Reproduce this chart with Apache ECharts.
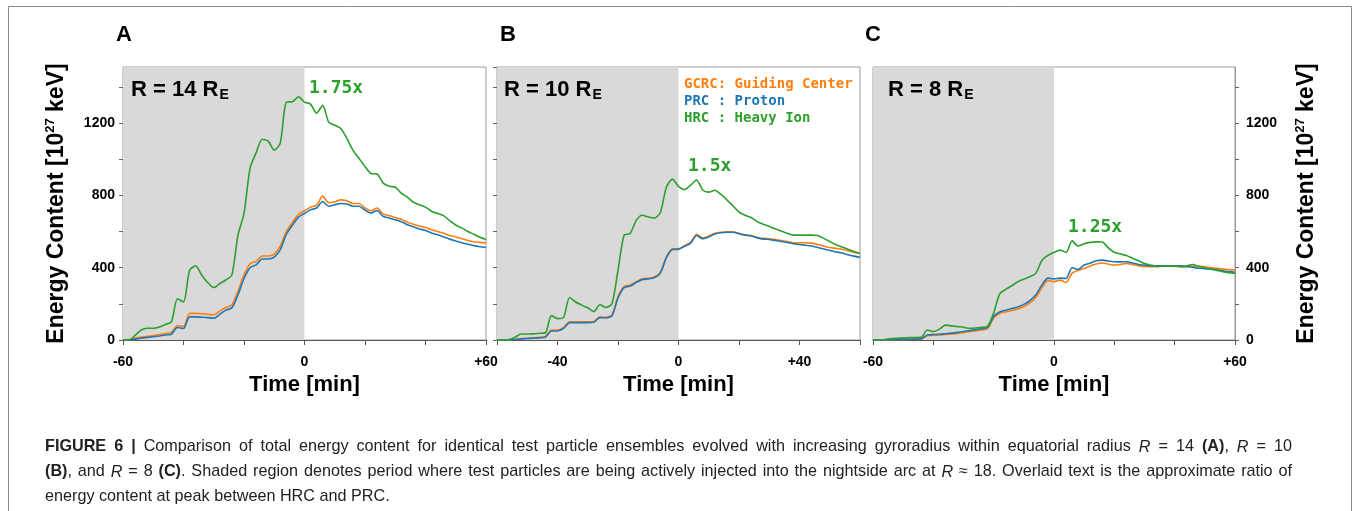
<!DOCTYPE html>
<html>
<head>
<meta charset="utf-8">
<script src="https://cdn.jsdelivr.net/npm/echarts@6/dist/echarts.min.js"></script>
<style>
html,body{margin:0;padding:0;background:#fff;}
#chart{width:1354px;height:511px;}
</style>
</head>
<body>
<div id="chart"></div>
<script>
// ---- data (time in minutes, energy content in 10^27 keV) ----
const time = [-60,-58,-56,-54,-52,-50,-48,-46,-44,-42,-40,-38,-36,-34,-32,-30,-28,-26,-24,-22,-20,-18,-16,-14,-12,-10,-8,-6,-4,-2,
  0,2,4,6,8,10,12,14,16,18,20,22,24,26,28,30,32,34,36,38,40,42,44,46,48,50,52,54,56,58,60];

// Panel A: R = 14 RE
const aGCRC = [0,2,10,16,20,25,30,36,42,80,75,147,147,145,142,138,160,180,195,270,360,422,435,465,465,475,520,600,650,695,
  715,735,745,796,760,765,775,770,755,755,730,715,730,698,688,678,668,652,640,630,622,610,600,590,578,570,560,550,543,540,537];
const aPRC = [0,0,5,10,14,18,22,28,32,70,64,128,128,126,124,120,142,165,178,250,340,400,415,448,448,458,500,585,635,680,
  700,720,730,766,740,748,755,752,740,740,718,702,716,684,675,665,654,638,626,614,606,592,582,570,558,548,538,530,522,516,512];
const aHRC = [0,0,25,55,65,65,72,86,100,228,210,385,410,360,318,290,312,332,360,580,700,950,1035,1110,1100,1050,1090,1316,1318,1345,
  1316,1305,1255,1298,1205,1188,1170,1115,1050,1005,960,921,918,868,850,845,812,790,762,748,735,712,700,688,660,636,620,600,585,568,556];

// Panel B: R = 10 RE
const bGCRC = [0,0,2,5,8,10,12,15,20,55,55,70,101,101,101,101,102,129,126,138,240,295,304,322,338,342,348,375,460,505,
  505,522,540,585,565,575,590,596,598,598,590,582,578,568,562,560,555,550,545,538,538,538,536,528,520,512,507,502,494,486,479];
const bPRC = [0,0,1,3,6,8,10,12,16,50,50,64,96,96,96,96,98,124,122,134,232,290,298,318,334,338,344,370,455,500,
  502,518,536,578,560,570,586,593,596,596,588,580,575,565,558,556,550,545,540,532,528,524,520,512,503,495,488,481,472,464,457];
const bHRC = [0,0,2,15,33,33,34,37,40,135,118,125,235,210,193,178,157,195,180,200,385,580,589,660,690,680,674,705,845,890,
  850,832,856,885,830,818,828,805,775,742,708,690,678,655,640,628,615,603,590,580,580,580,580,578,562,545,528,515,502,490,479];

// Panel C: R = 8 RE
const cGCRC = [0,0,0,2,3,3,4,5,6,24,26,28,30,33,36,40,46,50,55,62,122,147,155,163,172,185,205,235,290,330,
  323,331,318,370,385,395,409,420,426,420,414,418,424,418,410,407,405,405,408,410,407,405,406,408,409,405,400,396,392,389,387];
const cPRC = [0,0,0,2,3,3,4,5,6,28,30,32,35,38,42,47,52,57,62,70,130,155,165,174,183,197,218,250,305,342,
  338,342,340,400,390,415,425,438,442,437,433,432,433,426,418,414,410,410,410,410,409,410,407,402,397,395,392,388,383,378,374];
const cHRC = [0,0,3,8,10,12,13,14,15,55,46,60,82,78,74,70,65,66,70,76,150,255,280,300,322,337,350,370,440,468,
  485,497,485,548,520,532,540,543,542,510,485,476,467,452,438,423,415,408,408,410,410,405,410,418,407,400,392,385,378,372,368];

const seriesNames = ['GCRC: Guiding Center', 'PRC : Proton', 'HRC : Heavy Ion'];
const seriesColors = ['#ff7f0e', '#1f77b4', '#2ca02c'];
const panels = [
  {letter: 'A', radius: '14', ratio: '1.75x', data: [aGCRC, aPRC, aHRC], xLabels: [-60, 0, 60]},
  {letter: 'B', radius: '10', ratio: '1.5x',  data: [bGCRC, bPRC, bHRC], xLabels: [-40, 0, 40]},
  {letter: 'C', radius: '8',  ratio: '1.25x', data: [cGCRC, cPRC, cHRC], xLabels: [-60, 0, 60]}
];
const xTicks = [-60, -40, -20, 0, 20, 40, 60];
const yTickStep = 200;
const yLabels = [0, 400, 800, 1200];
const injectionPeriod = [-60, 0];

// caption: *bold*, _italic_
const captionText = [
  '*FIGURE 6 |* Comparison of total energy content for identical test particle ensembles evolved with increasing gyroradius within equatorial radius _R_ = 14 *(A)*, _R_ = 10',
  '*(B)*, and _R_ = 8 *(C)*. Shaded region denotes period where test particles are being actively injected into the nightside arc at _R_ ≈ 18. Overlaid text is the approximate ratio of',
  'energy content at peak between HRC and PRC.'
];

// ---- layout ----
const SANS = "'Liberation Sans', Arial, Helvetica, sans-serif";
const MONO = "'DejaVu Sans Mono', monospace";
const gridBoxes = [
  {left: 123, top: 67, width: 363, height: 273},
  {left: 497, top: 67, width: 363, height: 273},
  {left: 873, top: 67, width: 362, height: 273}
];
const titlePos = [131, 504, 888];
const letterPos = [124, 508, 873];
const ratioPos = [[309, 88], [688, 166], [1068, 227]];

const chart = echarts.init(document.getElementById('chart'), null, {renderer: 'canvas'});

const yName = '{a|Energy Content [10}{s|27}{a| keV]}';
const yNameStyle = {
  rich: {
    a: {fontSize: 23, fontWeight: 'bold', color: '#000', fontFamily: SANS, lineHeight: 26},
    s: {fontSize: 13, fontWeight: 'bold', color: '#000', fontFamily: SANS, verticalAlign: 'top', lineHeight: 14}
  }
};

const grids = gridBoxes.map(g => Object.assign({show: true, borderColor: '#9a9a9a', borderWidth: 1, backgroundColor: 'transparent'}, g));

const xAxes = panels.map((p, i) => ({
  type: 'value', gridIndex: i, min: -60, max: 60,
  name: 'Time [min]', nameLocation: 'middle', nameGap: 33,
  nameTextStyle: {fontSize: 22, fontWeight: 'bold', color: '#000', fontFamily: SANS},
  axisLine: {show: true, onZero: false, lineStyle: {color: '#555', width: 1}},
  axisTick: {show: true, customValues: xTicks, length: 5, lineStyle: {color: '#555'}},
  axisLabel: {show: true, customValues: p.xLabels, margin: 15, fontSize: 14, fontWeight: 'bold', color: '#000', fontFamily: SANS,
    formatter: v => (v > 0 ? '+' + v : String(v))},
  splitLine: {show: false}
}));

const yAxes = panels.map((p, i) => {
  const right = i === 2;
  const ax = {
    type: 'value', gridIndex: i, min: 0, max: 1510, interval: yTickStep,
    position: right ? 'right' : 'left',
    axisLine: {show: true, onZero: false, lineStyle: {color: '#9a9a9a', width: 1}},
    axisTick: {show: true, length: 4, lineStyle: {color: '#666'}},
    axisLabel: {show: i !== 1, margin: right ? 11 : 8, fontSize: 14, fontWeight: 'bold', color: '#000', fontFamily: SANS,
      showMaxLabel: false,
      formatter: v => (yLabels.indexOf(v) >= 0 ? String(v) : '')},
    splitLine: {show: false}
  };
  if (i !== 1) {
    ax.name = yName;
    ax.nameLocation = 'middle';
    ax.nameRotate = 90;
    ax.nameGap = right ? 59 : 53;
    ax.nameTextStyle = yNameStyle;
  }
  return ax;
});

const series = [];
panels.forEach((p, i) => {
  p.data.forEach((vals, k) => {
    const s = {
      name: seriesNames[k], type: 'line', xAxisIndex: i, yAxisIndex: i,
      data: time.map((t, j) => [t, vals[j]]),
      showSymbol: false, symbol: 'none', smooth: 0.25,
      lineStyle: {color: seriesColors[k], width: 1.6},
      itemStyle: {color: seriesColors[k]},
      emphasis: {disabled: true}, silent: true, z: 3
    };
    if (k === 0) {
      s.markArea = {
        silent: true,
        itemStyle: {color: '#d9d9d9'},
        data: [[{xAxis: injectionPeriod[0]}, {xAxis: injectionPeriod[1]}]]
      };
    }
    series.push(s);
  });
});

const graphics = [
  {type: 'rect', silent: true, shape: {x: 8.5, y: 6.5, width: 1343, height: 530},
   style: {fill: 'none', stroke: '#888', lineWidth: 1}, z: 0}
];
panels.forEach((p, i) => {
  graphics.push({type: 'text', x: letterPos[i], y: 35, style: {text: p.letter, fontSize: 22, fontWeight: 'bold', fontFamily: SANS, fill: '#000', align: 'center', verticalAlign: 'middle'}, z: 10});
  graphics.push({type: 'text', x: titlePos[i], y: 90, style: {
    text: '{a|R = ' + p.radius + ' R}{s|E}', align: 'left', verticalAlign: 'middle',
    rich: {
      a: {fontSize: 22, fontWeight: 'bold', fontFamily: SANS, fill: '#000', lineHeight: 24},
      s: {fontSize: 14, fontWeight: 'bold', fontFamily: SANS, fill: '#000', lineHeight: 14, verticalAlign: 'bottom', padding: [0, 0, 0, 1]}
    }}, z: 10});
  graphics.push({type: 'text', x: ratioPos[i][0], y: ratioPos[i][1], style: {text: p.ratio, fontSize: 18, fontWeight: 'bold', fontFamily: MONO, fill: '#2ca02c', align: 'left', verticalAlign: 'middle'}, z: 10});
});

// ---- justified caption ----
const CAP_SIZE = 16.2;
const capRich = {
  n: {fontSize: CAP_SIZE, fontFamily: SANS, fill: '#222'},
  b: {fontSize: CAP_SIZE, fontFamily: SANS, fontWeight: 'bold', fill: '#222'},
  i: {fontSize: CAP_SIZE, fontFamily: SANS, fontStyle: 'italic', fill: '#222'}
};
const measureCtx = document.createElement('canvas').getContext('2d');
function fontOf(st) {
  return (st === 'i' ? 'italic ' : 'normal ') + (st === 'b' ? 'bold ' : 'normal ') + CAP_SIZE + 'px ' + SANS;
}
function measure(st, txt) { measureCtx.font = fontOf(st); return measureCtx.measureText(txt).width; }
function parseWords(line) {
  const words = []; let cur = []; let piece = ''; let st = 'n';
  const flush = () => { if (piece) { cur.push([st, piece]); piece = ''; } };
  for (const ch of line) {
    if (ch === '*' || ch === '_') { flush(); const target = ch === '*' ? 'b' : 'i'; st = (st === target) ? 'n' : target; }
    else if (ch === ' ') { flush(); if (cur.length) { words.push(cur); cur = []; } }
    else piece += ch;
  }
  flush(); if (cur.length) words.push(cur);
  return words;
}
const capLeft = 45, capRight = 1292;
const captionY = [447, 472, 497];
captionText.forEach((line, li) => {
  const words = parseWords(line);
  const widths = words.map(w => w.reduce((s, pc) => s + measure(pc[0], pc[1]), 0));
  const total = widths.reduce((a, b) => a + b, 0);
  const justify = li < captionText.length - 1;
  const gap = justify ? (capRight - capLeft - total) / (words.length - 1) : measure('n', ' ');
  let x = capLeft;
  words.forEach((w, wi) => {
    const txt = w.map(pc => '{' + pc[0] + '|' + pc[1] + '}').join('');
    graphics.push({type: 'text', x: x, y: captionY[li], silent: true,
      style: {text: txt, rich: capRich, align: 'left', verticalAlign: 'middle'}, z: 10});
    x += widths[wi] + gap;
  });
});

chart.setOption({
  animation: false,
  backgroundColor: '#fff',
  grid: grids,
  xAxis: xAxes,
  yAxis: yAxes,
  legend: {
    show: true, orient: 'vertical', left: 679, top: 75.5, padding: 0,
    itemGap: 0, itemWidth: 0, itemHeight: 0, icon: 'none', selectedMode: false,
    textStyle: {fontSize: 14, fontWeight: 'bold', fontFamily: MONO, lineHeight: 17},
    data: seriesNames.map((n, k) => ({name: n, textStyle: {color: seriesColors[k]}}))
  },
  graphic: graphics,
  series: series
});
</script>
</body>
</html>
